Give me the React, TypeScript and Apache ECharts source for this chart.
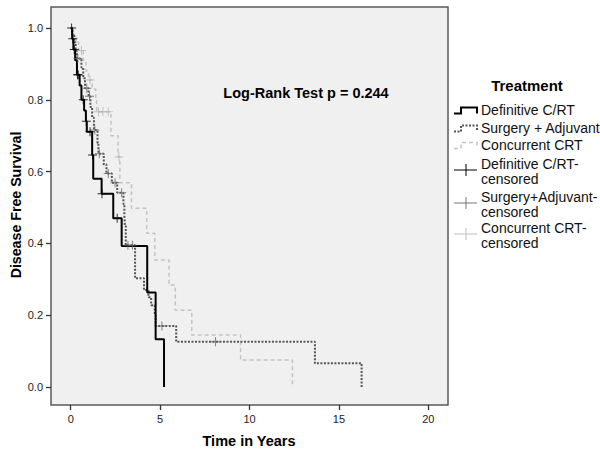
import React, { useEffect, useRef } from "react";
import * as echarts from "echarts";

// Definitive C/RT
const defTimes = [0, 0.08, 0.15, 0.25, 0.35, 0.5, 0.6, 0.75, 0.85, 0.9, 1.2, 1.26, 1.73, 2.38, 2.85, 4.28, 4.75, 5.22];
const defSurv = [1, 0.97, 0.94, 0.91, 0.87, 0.84, 0.8, 0.77, 0.74, 0.711, 0.646, 0.58, 0.538, 0.47, 0.393, 0.263, 0.133, 0];
const defCensT = [0.05, 0.12, 0.2, 0.38, 0.42, 0.7, 0.87, 1.08, 1.22, 1.75, 2.6];
const defCensS = [1.0, 0.97, 0.94, 0.87, 0.87, 0.8, 0.74, 0.711, 0.646, 0.538, 0.47];

// Surgery + Adjuvant
const surgTimes = [0, 0.1, 0.2, 0.28, 0.35, 0.6, 0.7, 0.8, 1.0, 1.1, 1.2, 1.3, 1.5, 1.55, 1.85, 2.0, 2.3, 2.6, 2.95, 3.0, 3.03, 3.08, 3.6, 4.1, 4.35, 4.5, 4.7, 4.75, 5.9, 13.66, 16.27];
const surgSurv = [1, 0.98, 0.96, 0.94, 0.915, 0.89, 0.86, 0.832, 0.81, 0.78, 0.75, 0.716, 0.68, 0.65, 0.62, 0.595, 0.569, 0.541, 0.51, 0.48, 0.45, 0.395, 0.303, 0.27, 0.25, 0.228, 0.2, 0.17, 0.126, 0.066, 0];
const surgCensT = [0.4, 0.9, 1.05, 1.35, 1.6, 2.1, 2.48, 2.85, 3.2, 3.45, 5.1, 8.1];
const surgCensS = [0.915, 0.832, 0.81, 0.716, 0.65, 0.595, 0.569, 0.541, 0.395, 0.395, 0.17, 0.126];

// Concurrent CRT
const concTimes = [0, 0.1, 0.3, 0.45, 0.7, 0.85, 1.0, 1.2, 1.4, 1.45, 2.25, 2.65, 2.75, 3.4, 4.25, 4.7, 5.5, 5.85, 6.77, 9.5, 12.4];
const concSurv = [1, 0.98, 0.96, 0.937, 0.91, 0.88, 0.855, 0.83, 0.8, 0.767, 0.7, 0.641, 0.569, 0.498, 0.428, 0.354, 0.284, 0.214, 0.145, 0.075, 0];
const concCensT = [0.6, 1.08, 1.55, 1.8, 2.1, 2.7];
const concCensS = [0.937, 0.855, 0.767, 0.767, 0.767, 0.641];

const legendLabels = [
  "Definitive C/RT",
  "Surgery + Adjuvant",
  "Concurrent CRT",
  "Definitive C/RT-\ncensored",
  "Surgery+Adjuvant-\ncensored",
  "Concurrent CRT-\ncensored",
];

const FONT = "'Liberation Sans', Arial, sans-serif";
const CROSS = "path://M4.45,0H5.55V4.45H10V5.55H5.55V10H4.45V5.55H0V4.45H4.45Z";

const zip = (a: number[], b: number[]) => a.map((v, i) => [v, b[i]]);

export default function App() {
  const ref = useRef<HTMLDivElement>(null);
  useEffect(() => {
    if (!ref.current) return;
    const chart = echarts.init(ref.current, null, { renderer: "svg" });

    const lineSeries = (name: string, data: number[][], color: string, width: number, dash: any, z: number) => ({
      name,
      type: "line",
      step: "end",
      xAxisIndex: 1,
      yAxisIndex: 1,
      clip: false,
      data,
      showSymbol: false,
      symbol: "none",
      z,
      lineStyle: { color, width, type: dash },
      silent: true,
    });
    const censSeries = (name: string, data: number[][], color: string, z: number) => ({
      name,
      type: "scatter",
      xAxisIndex: 1,
      yAxisIndex: 1,
      clip: false,
      data,
      symbol: CROSS,
      symbolSize: 9,
      z,
      itemStyle: { color },
      silent: true,
    });

    const legY = [110, 128, 145, 164, 197, 228];
    const graphics: any[] = [
      {
        type: "text",
        x: 306,
        y: 93,
        style: { text: "Log-Rank Test p = 0.244", font: `bold 14.5px ${FONT}`, fill: "#000", textAlign: "center", textVerticalAlign: "middle" },
      },
      {
        type: "text",
        x: 527,
        y: 85,
        style: { text: "Treatment", font: `bold 15px ${FONT}`, fill: "#000", textAlign: "center", textVerticalAlign: "middle" },
      },
      {
        type: "text",
        x: 16,
        y: 205,
        rotation: Math.PI / 2,
        style: { text: "Disease Free Survival", font: `bold 14.2px ${FONT}`, fill: "#000", textAlign: "center", textVerticalAlign: "middle" },
      },
      {
        type: "text",
        x: 249,
        y: 441,
        style: { text: "Time in Years", font: `bold 14.5px ${FONT}`, fill: "#000", textAlign: "center", textVerticalAlign: "middle" },
      },
      // legend line icons
      {
        type: "polyline",
        shape: { points: [[454, 113.5], [461, 113.5], [461, 107.5], [477, 107.5], [477, 113.5]] },
        style: { stroke: "#000", lineWidth: 2, fill: "none" },
      },
      {
        type: "polyline",
        shape: { points: [[454, 131.5], [461, 131.5], [461, 125.5], [477, 125.5], [477, 131.5]] },
        style: { stroke: "#555", lineWidth: 2, fill: "none", lineDash: [2, 1.5] },
      },
      {
        type: "polyline",
        shape: { points: [[454, 148.5], [461, 148.5], [461, 142.5], [477, 142.5], [477, 148.5]] },
        style: { stroke: "#c4c4c4", lineWidth: 1.5, fill: "none", lineDash: [4, 3] },
      },
    ];
    const crossColors = ["#000", "#777", "#bdbdbd"];
    [170, 203, 234].forEach((cy, i) => {
      graphics.push({ type: "line", shape: { x1: 454, y1: cy, x2: 477, y2: cy }, style: { stroke: crossColors[i], lineWidth: 1 } });
      graphics.push({ type: "line", shape: { x1: 466, y1: cy - 6, x2: 466, y2: cy + 6 }, style: { stroke: crossColors[i], lineWidth: 1 } });
    });
    legendLabels.forEach((t, i) => {
      graphics.push({
        type: "text",
        x: 481,
        y: legY[i] - 7.25,
        style: { text: t, font: `14px ${FONT}`, lineHeight: 14.5, fill: "#111", textAlign: "left", textVerticalAlign: "top" },
      });
    });

    const tickStyle = { show: true, length: 5, lineStyle: { color: "#333", width: 1.3 } };
    const labelStyle = { color: "#222", fontSize: 11, fontFamily: FONT, margin: 8 };

    chart.setOption({
      animation: false,
      backgroundColor: "#fff",
      grid: [
        {
          // plot frame: x from -1.1 to 21.1, y from -0.05 to 1.058
          left: 51,
          top: 7,
          right: 152,
          bottom: 46,
          show: true,
          backgroundColor: "#f0f0f0",
          borderColor: "#5a5a5a",
          borderWidth: 1.5,
        },
        {
          // data area: x 0..20, y 0..1
          left: 70.7,
          right: 171.7,
          top: 28,
          bottom: 64,
        },
      ],
      xAxis: [
        { type: "value", gridIndex: 0, min: -1.1, max: 21.1, show: false },
        {
          type: "value",
          gridIndex: 1,
          min: 0,
          max: 20,
          interval: 5,
          offset: 18,
          axisLine: { show: false, onZero: false },
          splitLine: { show: false },
          axisTick: tickStyle,
          axisLabel: { ...labelStyle, formatter: (v: number) => String(v) },
        },
      ],
      yAxis: [
        { type: "value", gridIndex: 0, min: -0.05, max: 1.058, show: false },
        {
          type: "value",
          gridIndex: 1,
          min: 0,
          max: 1,
          interval: 0.2,
          offset: 19.7,
          axisLine: { show: false, onZero: false },
          splitLine: { show: false },
          axisTick: tickStyle,
          axisLabel: { ...labelStyle, formatter: (v: number) => v.toFixed(1) },
        },
      ],
      series: [
        lineSeries("Concurrent CRT", zip(concTimes, concSurv), "#c4c4c4", 1.5, [4, 3], 2),
        lineSeries("Surgery + Adjuvant", zip(surgTimes, surgSurv), "#555", 2, [2, 1.5], 3),
        lineSeries("Definitive C/RT", zip(defTimes, defSurv), "#000", 2, "solid", 4),
        censSeries("Concurrent CRT-censored", zip(concCensT, concCensS), "#b5b5b5", 5),
        censSeries("Surgery+Adjuvant-censored", zip(surgCensT, surgCensS), "#666", 6),
        censSeries("Definitive C/RT-censored", zip(defCensT, defCensS), "#000", 7),
      ],
      graphic: graphics,
    });
    return () => chart.dispose();
  }, []);
  return <div ref={ref} style={{ width: 600, height: 451, position: "absolute", left: 0, top: 0 }} />;
}
